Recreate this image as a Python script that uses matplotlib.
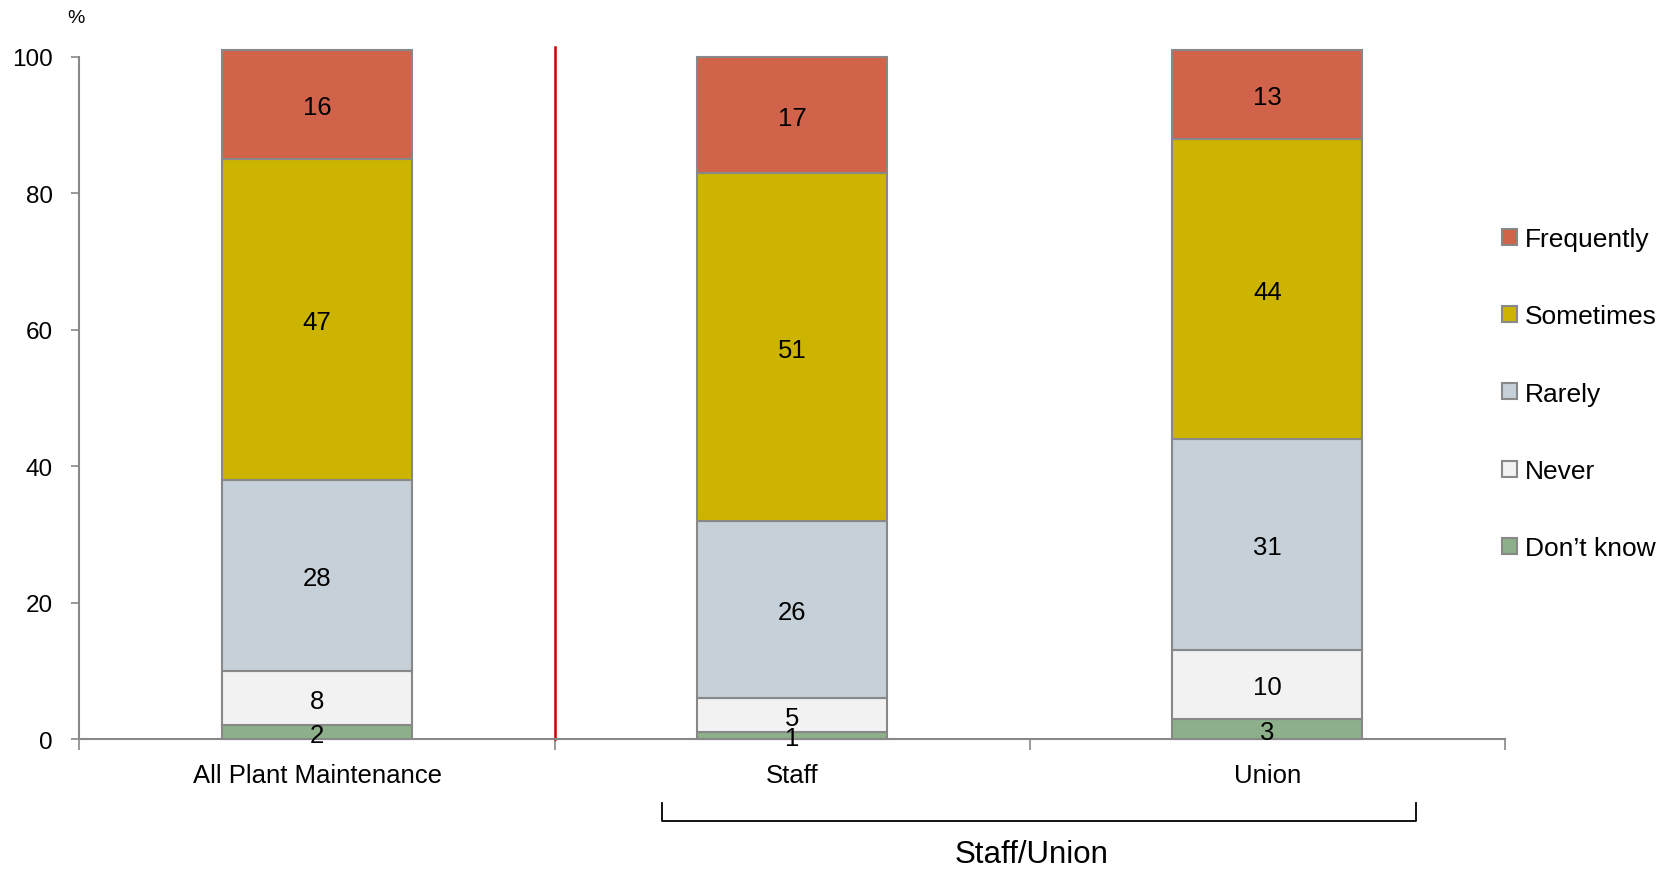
import matplotlib.pyplot as plt
import numpy as np

plt.rcParams['font.family'] = ['Liberation Sans', 'DejaVu Sans']

# data
groups = ['All Plant Maintenance', 'Staff', 'Union']
series = ['Don\u2019t know', 'Never', 'Rarely', 'Sometimes', 'Frequently']
dont_know = [2, 1, 3]
never = [8, 5, 10]
rarely = [28, 26, 31]
sometimes = [47, 51, 44]
frequently = [16, 17, 13]
colors = ['#8DB08A', '#F2F2F2', '#C5D0D8', '#CCB400', '#D0634A']

values = [dont_know, never, rarely, sometimes, frequently]

fig = plt.figure(figsize=(16.63, 8.7), dpi=100)
ax = fig.add_axes([0.0478, 0.1494, 0.8572, 0.784])

x = np.arange(len(groups))
bottom = np.zeros(len(groups))
handles = []
for name, vals, col in zip(series, values, colors):
    vals = np.array(vals, dtype=float)
    b = ax.bar(x, vals, 0.4, bottom=bottom, color=col, edgecolor='#888888',
               linewidth=1.5, label=name, clip_on=False, zorder=3)
    handles.append(b)
    for xi, v, bt in zip(x, vals, bottom):
        ax.text(xi, bt + v / 2 - 0.4, str(int(v)), ha='center', va='center',
                fontsize=18.5, zorder=4)
    bottom += vals

ax.set_xlim(-0.5, 2.5)
ax.set_ylim(0, 100)
ax.set_yticks([0, 20, 40, 60, 80, 100])
ax.tick_params(axis='y', labelsize=17.5, direction='out', length=6, width=1.2,
               color='#888888', pad=13)
ax.set_xticks(x)
ax.set_xticklabels(groups, fontsize=18.5)
ax.tick_params(axis='x', which='major', length=0, pad=17)
ax.set_xticks([-0.5, 0.5, 1.5, 2.5], minor=True)
ax.tick_params(axis='x', which='minor', direction='out', length=8, width=1.2,
               color='#888888')
for s in ['top', 'right']:
    ax.spines[s].set_visible(False)
for s in ['left', 'bottom']:
    ax.spines[s].set_color('#888888')
    ax.spines[s].set_linewidth(1.5)

# red separator
ax.plot([0.5, 0.5], [0, 101.5], color='#CC0000', linewidth=1.8,
        clip_on=False, zorder=2)

fig.text(0.0457, 0.979, '%', fontsize=14, ha='center', va='center')

# bracket under Staff/Union
bx0, bx1 = 662 / 1663, 1416 / 1663
by0, by1 = 1 - 804 / 870, 1 - 822 / 870
fig.add_artist(plt.Line2D([bx0, bx0, bx1, bx1], [by0, by1, by1, by0],
                          color='black', linewidth=1.3, transform=fig.transFigure))
fig.text(1032 / 1663, 1 - 855 / 870, 'Staff/Union', fontsize=22.5,
         ha='center', va='center')

# legend
leg = ax.legend(handles[::-1], series[::-1], loc='upper left',
                bbox_to_anchor=(0.897, 0.75), bbox_transform=fig.transFigure,
                frameon=False, fontsize=19, handlelength=0.55, handleheight=0.55,
                handletextpad=0.3, labelspacing=2.02, borderaxespad=0)

fig.savefig('out.png', dpi=100)
